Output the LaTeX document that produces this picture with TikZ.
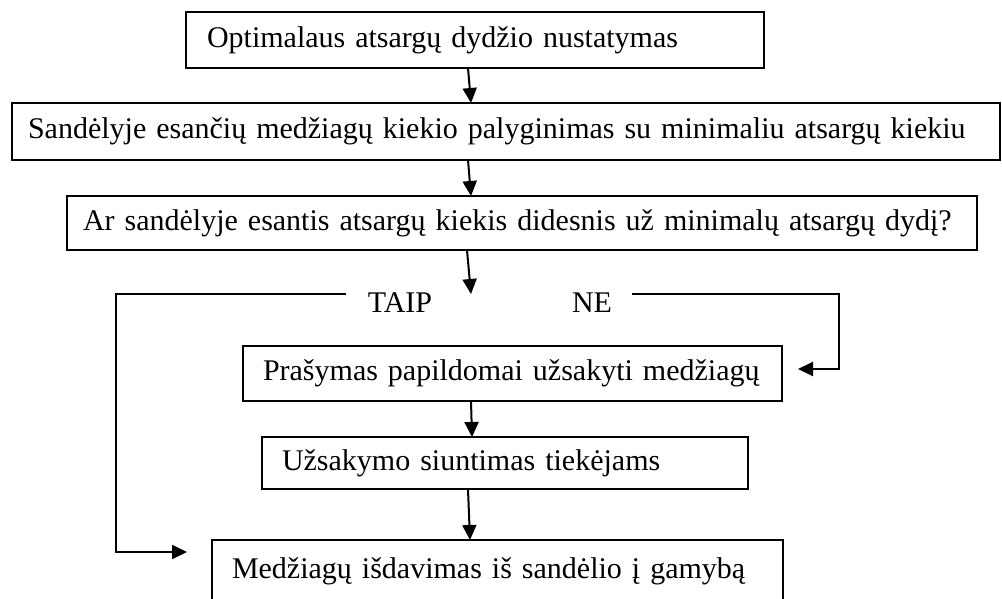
\documentclass[tikz,border=0pt]{standalone}
\usepackage{fontspec}
\setmainfont{Liberation Serif}
\usetikzlibrary{arrows.meta}
\begin{document}
\begin{tikzpicture}[x=1pt,y=-1pt,
  txt/.style={font=\fontsize{30}{34}\selectfont},
  stepbox/.style={txt, draw, line width=1.4pt, anchor=north west, inner ysep=0pt,
    outer sep=0pt, align=left},
  link/.style={line width=2pt, -{Triangle[length=15pt,width=14pt]}},
  lbl/.style={txt, inner sep=0pt}]
  \useasboundingbox (0,0) rectangle (1002,598);
  \clip (0,0) rectangle (1002,598);

  % process boxes (one line of text each)
  \node[stepbox, inner xsep=21pt, text width=536pt, minimum height=56pt] (b1) at (186,12)
    {\mbox{Optimalaus atsargų dydžio nustatymas}};
  \node[stepbox, inner xsep=16pt, text width=956pt, minimum height=57pt] (b2) at (12,103)
    {\mbox{Sandėlyje esančių medžiagų kiekio palyginimas su minimaliu atsargų kiekiu}};
  \node[stepbox, inner xsep=16pt, text width=878pt, minimum height=54pt] (b3) at (67,196)
    {\mbox{Ar sandėlyje esantis atsargų kiekis didesnis už minimalų atsargų dydį?}};
  \node[stepbox, inner xsep=20pt, text width=499pt, minimum height=55pt] (b4) at (243,346)
    {\mbox{Prašymas papildomai užsakyti medžiagų}};
  \node[stepbox, inner xsep=20pt, text width=446pt, minimum height=52pt] (b5) at (262,437)
    {\mbox{Užsakymo siuntimas tiekėjams}};
  \node[stepbox, inner xsep=20pt, text width=531pt, minimum height=62pt] (b6) at (212,540)
    {\mbox{Medžiagų išdavimas iš sandėlio į gamybą}};

  % branch labels
  \node[lbl] (taip) at (400,303) {TAIP};
  \node[lbl] (ne) at (592,303) {NE};

  % helper points
  \coordinate (sp) at (470,0);
  \coordinate (split) at (471,294);
  \coordinate (tl) at (346,294);
  \coordinate (lc) at (116,294);
  \coordinate (t6) at (187,552);
  \coordinate (nr) at (632,294);
  \coordinate (rc) at (839,294);
  \coordinate (t4) at (798,369);

  % main flow
  \draw[link] ([xshift=-2pt]b1.south -| sp) -- ([xshift=1pt]b2.north -| sp);
  \draw[link] ([xshift=-2pt]b2.south -| sp) -- ([xshift=1pt]b3.north -| sp);
  \draw[link] ([xshift=-3pt]b3.south -| sp) -- (split);
  \draw[link] ([xshift=1pt]b4.south -| sp) -- ([xshift=2pt]b5.north -| sp);
  \draw[link] ([xshift=-2pt]b5.south -| sp) -- ([xshift=0pt]b6.north -| sp);

  % decision branches
  \draw[link] (tl) -- (lc) |- (t6);
  \draw[link] (nr) -- (rc) |- (t4);
\end{tikzpicture}
\end{document}
